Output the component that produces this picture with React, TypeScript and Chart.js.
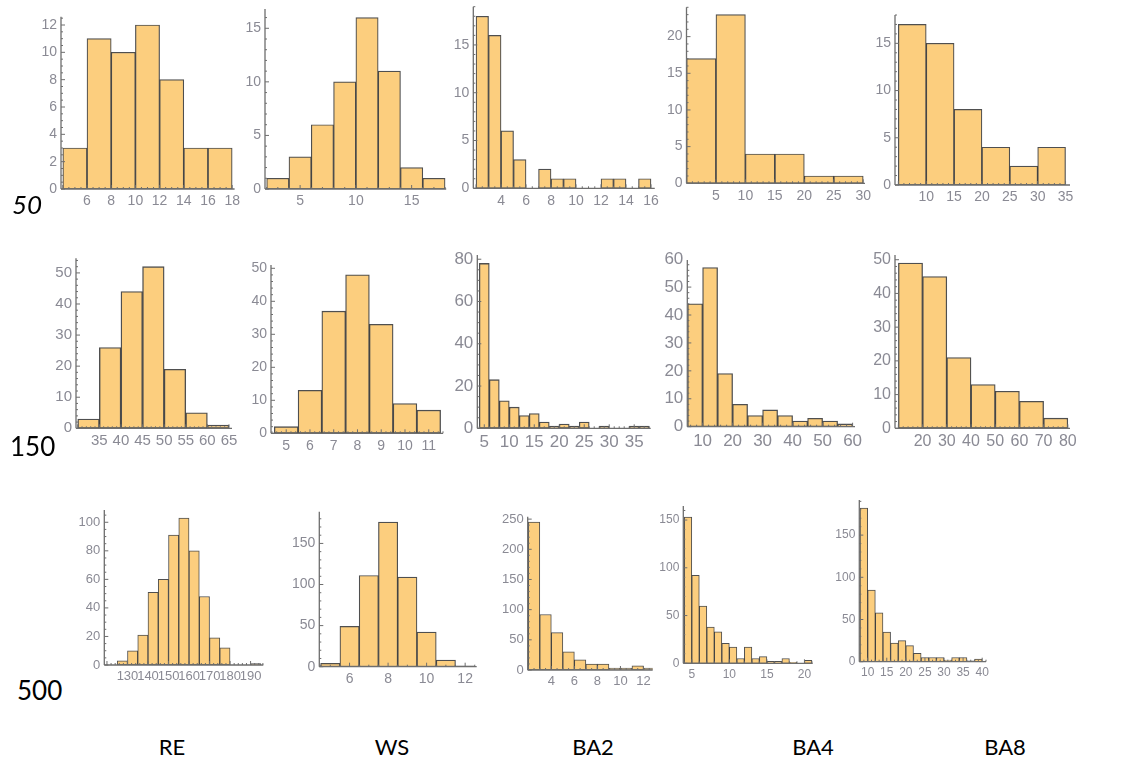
import React, { useEffect, useRef } from "react";
import { Chart, registerables } from "chart.js";

Chart.register(...registerables);

// ---------------- data (bin counts) ----------------
const RE50_COUNTS = [3, 11, 10, 12, 8, 3, 3];
const WS50_COUNTS = [1, 3, 6, 10, 16, 11, 2, 1];
const BA2_50_COUNTS = [18, 16, 6, 3, 0, 2, 1, 1, 0, 0, 1, 1, 0, 1];
const BA4_50_COUNTS = [17, 23, 4, 4, 1, 1];
const BA8_50_COUNTS = [17, 15, 8, 4, 2, 4];

const RE150_COUNTS = [3, 26, 44, 52, 19, 5, 1];
const WS150_COUNTS = [2, 13, 37, 48, 33, 9, 7];
const BA2_150_COUNTS = [78, 23, 13, 10, 6, 7, 3, 1, 2, 1, 3, 0, 1, 0, 0, 1, 1];
const BA4_150_COUNTS = [44, 57, 19, 8, 4, 6, 4, 2, 3, 2, 1];
const BA8_150_COUNTS = [49, 45, 21, 13, 11, 8, 3];

const RE500_COUNTS = [3, 10, 21, 51, 60, 91, 103, 80, 48, 19, 12, 0, 0, 1];
const WS500_COUNTS = [4, 49, 111, 176, 109, 42, 8, 1];
const BA2_500_COUNTS = [245, 92, 62, 30, 17, 10, 10, 3, 3, 7, 3];
const BA4_500_COUNTS = [153, 92, 60, 38, 33, 21, 17, 5, 17, 5, 7, 2, 2, 5, 1, 0, 3];
const BA8_500_COUNTS = [182, 85, 58, 35, 22, 25, 19, 10, 5, 5, 5, 2, 5, 5, 1, 3];

const COUNTS = [
  RE50_COUNTS, WS50_COUNTS, BA2_50_COUNTS, BA4_50_COUNTS, BA8_50_COUNTS,
  RE150_COUNTS, WS150_COUNTS, BA2_150_COUNTS, BA4_150_COUNTS, BA8_150_COUNTS,
  RE500_COUNTS, WS500_COUNTS, BA2_500_COUNTS, BA4_500_COUNTS, BA8_500_COUNTS,
];

// first bin edge and bin width of every histogram
const BIN_START = [4, 2, 2, 0, 5, 30, 4.5, 4, 5, 10, 125, 4.5, 2, 4, 8];
const BIN_WIDTH = [2, 2, 1, 5, 5, 5, 1, 2, 5, 10, 5, 1, 1, 1, 2];

// axis ranges
const X_RANGE = [
  [3.85, 18.2], [1.85, 18.1], [1.78, 16.3], [0, 30.3], [4.4, 35.8],
  [29.6, 65.7], [4.36, 11.6], [3.6, 38.3], [4.9, 60.8], [8.6, 80.9],
  [118.7, 196.2], [4.43, 12.6], [1.95, 12.8], [3.87, 21.1], [7.8, 41],
];
const Y_MAX = [12.6, 16.8, 19, 24, 18, 54.7, 51, 82, 59.7, 51.4, 108.6, 188.6, 254, 164.7, 191.6];

// tick labels
const X_TICKS = [
  [6, 8, 10, 12, 14, 16, 18], [5, 10, 15], [4, 6, 8, 10, 12, 14, 16], [5, 10, 15, 20, 25, 30], [10, 15, 20, 25, 30, 35],
  [35, 40, 45, 50, 55, 60, 65], [5, 6, 7, 8, 9, 10, 11], [5, 10, 15, 20, 25, 30, 35], [10, 20, 30, 40, 50, 60], [20, 30, 40, 50, 60, 70, 80],
  [130, 140, 150, 160, 170, 180, 190], [6, 8, 10, 12], [4, 6, 8, 10, 12], [5, 10, 15, 20], [10, 15, 20, 25, 30, 35, 40],
];
const Y_TICKS = [
  [0, 2, 4, 6, 8, 10, 12], [0, 5, 10, 15], [0, 5, 10, 15], [0, 5, 10, 15, 20], [0, 5, 10, 15],
  [0, 10, 20, 30, 40, 50], [0, 10, 20, 30, 40, 50], [0, 20, 40, 60, 80], [0, 10, 20, 30, 40, 50, 60], [0, 10, 20, 30, 40, 50],
  [0, 20, 40, 60, 80, 100], [0, 50, 100, 150], [0, 50, 100, 150, 200, 250], [0, 50, 100, 150], [0, 50, 100, 150],
];

const ROW_LABELS = ["50", "150", "500"];
const COL_LABELS = ["RE", "WS", "BA2", "BA4", "BA8"];

// ---------------- layout / style ----------------
// plot-area frame of each panel on the page: left, right, top, bottom (px)
const FRAMES = [
  [61, 234.6, 16.8, 189], [265, 446.2, 9, 189], [473.3, 654.75, 6.7, 188.3], [686.5, 865, 7.3, 183.3], [895, 1070, 15, 185],
  [76, 232, 258.3, 428.3], [271, 443, 265, 433.3], [477.3, 650.7, 255, 428.3], [687.3, 855, 260, 426.7], [895, 1070, 255, 428.3],
  [104.3, 263.3, 510, 665], [319.3, 476.7, 511.7, 666.7], [527.7, 652.7, 516.7, 670], [683.3, 812.7, 506, 663.3], [859.3, 986, 500, 661.7],
];
const TICK_FONT = [14, 14, 14, 14, 14, 15, 14, 17, 17, 16, 13, 14, 13, 12, 12];
const EDGE_WIDTH = [1.2, 1.2, 1.2, 1.2, 1.2, 1.4, 1.3, 1.3, 1.3, 1.3, 1, 1.2, 1, 1, 1];
const ROW_LABEL_POS = [
  { x: 12, cy: 205, italic: true },
  { x: 10, cy: 447, italic: false },
  { x: 17, cy: 691, italic: false },
];
const COL_LABEL_X = [172, 392, 593, 813, 1005];
const COL_LABEL_CY = 748;

const FILL = "rgb(252, 206, 126)";
const EDGE = "rgba(40, 40, 40, 0.82)";
const AXIS = "#6e6e6e";
const TICK_TEXT = "#8a8a94";

const mmaAxes = {
  id: "mmaAxes",
  afterDatasetsDraw(chart: any, _args: any, opts: any) {
    const { ctx, chartArea: a, scales } = chart;
    const xs = scales.x;
    const ys = scales.y;
    ctx.save();
    ctx.strokeStyle = opts.color;
    ctx.lineWidth = opts.lineWidth;
    ctx.beginPath();
    ctx.moveTo(a.left, a.bottom);
    ctx.lineTo(a.right, a.bottom);
    ctx.moveTo(a.left, a.bottom);
    ctx.lineTo(a.left, a.top);
    ctx.stroke();
    const walk = (min: number, max: number, major: number, minor: number, fn: (v: number, m: boolean) => void) => {
      const k0 = Math.ceil(min / minor - 1e-9);
      const k1 = Math.floor(max / minor + 1e-9);
      for (let k = k0; k <= k1; k++) {
        const v = k * minor;
        const r = v / major;
        fn(v, Math.abs(r - Math.round(r)) < 1e-6);
      }
    };
    ctx.lineWidth = opts.tickWidth;
    ctx.beginPath();
    walk(xs.min, xs.max, opts.xMajor, opts.xMinor, (v, m) => {
      const p = xs.getPixelForValue(v);
      ctx.moveTo(p, a.bottom);
      ctx.lineTo(p, a.bottom - (m ? opts.majorLen : opts.minorLen));
    });
    walk(ys.min, ys.max, opts.yMajor, opts.yMinor, (v, m) => {
      const p = ys.getPixelForValue(v);
      ctx.moveTo(a.left, p);
      ctx.lineTo(a.left + (m ? opts.majorLen : opts.minorLen), p);
    });
    ctx.stroke();
    ctx.restore();
  },
};

const minorOf = (step: number) => (Math.abs(step - 2) < 1e-9 || Math.abs(step - 20) < 1e-9 ? step / 4 : step / 5);

function HistPanel({ idx }: { idx: number }) {
  const ref = useRef<HTMLCanvasElement>(null);
  const [L, R, T, B] = FRAMES[idx];
  const font = TICK_FONT[idx];
  const yW = 36;
  const xH = font + 8;
  const cLeft = Math.floor(L - yW - 4);
  const cTop = Math.floor(T - 10);
  const cW = Math.ceil(R + 16 - cLeft);
  const cH = Math.ceil(B + xH + 2 - cTop);
  const pad = {
    left: L - yW - cLeft,
    top: T - cTop,
    right: cLeft + cW - R,
    bottom: cTop + cH - B - xH,
  };

  useEffect(() => {
    const counts = COUNTS[idx];
    const start = BIN_START[idx];
    const width = BIN_WIDTH[idx];
    const xt = X_TICKS[idx];
    const yt = Y_TICKS[idx];
    const xMajor = xt[1] - xt[0];
    const yMajor = yt[1] - yt[0];
    const chart = new Chart(ref.current as HTMLCanvasElement, {
      type: "bar",
      data: {
        datasets: [
          {
            data: counts.map((c, i) => ({ x: start + (i + 0.5) * width, y: c })),
            backgroundColor: FILL,
            borderColor: EDGE,
            borderWidth: EDGE_WIDTH[idx],
            borderSkipped: false,
            barPercentage: 1,
            categoryPercentage: 1,
          } as any,
        ],
      },
      options: {
        responsive: false,
        animation: false,
        devicePixelRatio: 1,
        events: [],
        layout: { padding: pad },
        plugins: {
          legend: { display: false },
          tooltip: { enabled: false },
          title: { display: false },
          mmaAxes: {
            color: AXIS,
            lineWidth: 1.3,
            tickWidth: 1,
            majorLen: 4,
            minorLen: 2,
            xMajor,
            xMinor: minorOf(xMajor),
            yMajor,
            yMinor: minorOf(yMajor),
          },
        } as any,
        scales: {
          x: {
            type: "linear",
            min: X_RANGE[idx][0],
            max: X_RANGE[idx][1],
            offset: false,
            grid: { display: false, drawTicks: false },
            border: { display: false },
            ticks: {
              color: TICK_TEXT,
              font: { family: "'Liberation Sans', Arial, sans-serif", size: font },
              padding: 4,
              autoSkip: false,
              maxRotation: 0,
              minRotation: 0,
              callback: (v: any) => String(v),
            },
            afterBuildTicks: (s: any) => {
              s.ticks = xt.map((v) => ({ value: v }));
            },
            afterFit: (s: any) => {
              s.height = xH;
              s.paddingLeft = 0;
              s.paddingRight = 0;
            },
          },
          y: {
            type: "linear",
            min: 0,
            max: Y_MAX[idx],
            grid: { display: false, drawTicks: false },
            border: { display: false },
            ticks: {
              color: TICK_TEXT,
              font: { family: "'Liberation Sans', Arial, sans-serif", size: font },
              padding: 4,
              autoSkip: false,
              callback: (v: any) => String(v),
            },
            afterBuildTicks: (s: any) => {
              s.ticks = yt.map((v) => ({ value: v }));
            },
            afterFit: (s: any) => {
              s.width = yW;
              s.paddingTop = 0;
              s.paddingBottom = 0;
            },
          },
        },
      } as any,
      plugins: [mmaAxes as any],
    });
    return () => chart.destroy();
  }, [idx]);

  return (
    <canvas
      ref={ref}
      width={cW}
      height={cH}
      style={{ position: "absolute", left: cLeft, top: cTop, width: cW, height: cH }}
    />
  );
}

export default function App() {
  return (
    <div
      style={{
        position: "absolute",
        left: 0,
        top: 0,
        width: 1147,
        height: 763,
        background: "#ffffff",
        overflow: "hidden",
      }}
    >
      {COUNTS.map((_, i) => (
        <HistPanel key={i} idx={i} />
      ))}
      {ROW_LABELS.map((t, i) => (
        <div
          key={t}
          style={{
            position: "absolute",
            left: ROW_LABEL_POS[i].x,
            top: ROW_LABEL_POS[i].cy - 14,
            fontFamily: "Lato, 'Open Sans', sans-serif",
            fontStyle: ROW_LABEL_POS[i].italic ? "italic" : "normal",
            fontSize: 26,
            lineHeight: "26px",
            color: "#000",
          }}
        >
          {t}
        </div>
      ))}
      {COL_LABELS.map((t, i) => (
        <div
          key={t}
          style={{
            position: "absolute",
            left: COL_LABEL_X[i],
            top: COL_LABEL_CY - 12,
            transform: "translateX(-50%)",
            fontFamily: "Lato, 'Open Sans', sans-serif",
            fontSize: 22,
            lineHeight: "22px",
            color: "#000",
            whiteSpace: "nowrap",
          }}
        >
          {t}
        </div>
      ))}
    </div>
  );
}
